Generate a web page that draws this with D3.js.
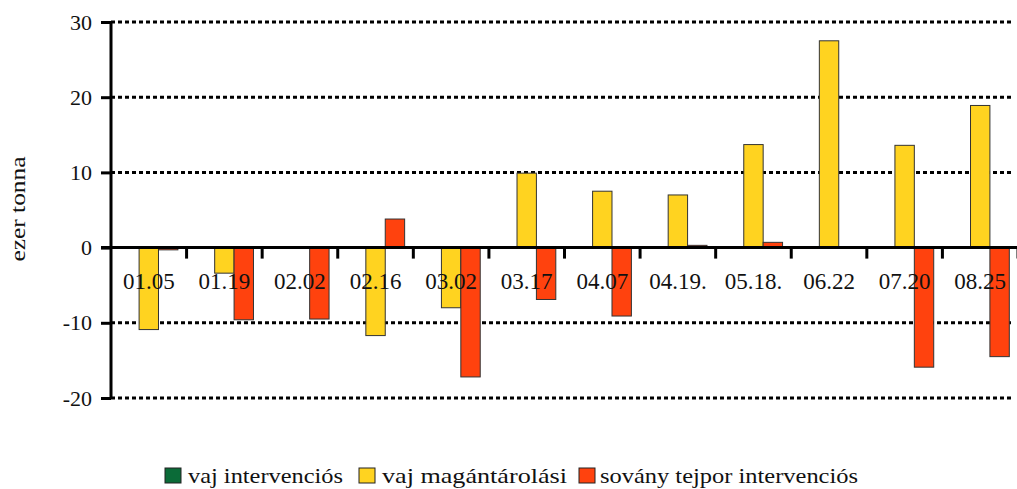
<!DOCTYPE html>
<html>
<head>
<meta charset="utf-8">
<script src="https://cdn.jsdelivr.net/npm/d3@7"></script>
<style>
  body { margin: 0; background: #fff; }
  svg text { font-family: "Times New Roman", "Liberation Serif", Times, serif; fill: #111; }
</style>
</head>
<body>
<svg id="chart"></svg>
<script>
var width = 1017,
    height = 489;

var categories = ["01.05", "01.19", "02.02", "02.16", "03.02", "03.17", "04.07", "04.19.", "05.18.", "06.22", "07.20", "08.25"];
var seriesNames = ["vaj intervenciós", "vaj magántárolási", "sovány tejpor intervenciós"];
var seriesColors = ["#0b6b38", "#ffd320", "#ff420e"];
var vajIntervencios = [0, 0, 0, 0, 0, 0, 0, 0, 0, 0, 0, 0];
var vajMagantarolasi = [-10.9, -3.4, 0, -11.7, -8.0, 9.9, 7.5, 7.0, 13.7, 27.5, 13.6, 18.9];
var sovanyTejpor = [-0.3, -9.6, -9.5, 3.8, -17.2, -6.9, -9.1, 0.3, 0.7, 0, -15.9, -14.5];
var yTicks = [-20, -10, 0, 10, 20, 30];

var seriesValues = [vajIntervencios, vajMagantarolasi, sovanyTejpor];
var rows = categories.map(function(c, i) {
  return { cat: c, vals: seriesValues.map(function(s, j) { return { key: j, value: s[i] }; }) };
});

var margin = { left: 111, right: -1, top: 22, bottom: 91 };

var svg = d3.select("#chart").attr("width", width).attr("height", height);

var x0 = d3.scaleBand()
  .domain(categories)
  .range([margin.left, width - margin.right])
  .padding(0);

var bw = x0.bandwidth();
var x1 = d3.scaleBand()
  .domain([0, 1, 2])
  .range([bw * 0.115, bw * 0.885])
  .padding(0);

var y = d3.scaleLinear()
  .domain([-20, 30])
  .range([height - margin.bottom, margin.top]);

// dotted grid
svg.append("g")
  .selectAll("line")
  .data(yTicks.filter(function(d) { return d !== 0; }))
  .enter().append("line")
  .attr("x1", margin.left)
  .attr("x2", 1013)
  .attr("y1", function(d) { return y(d); })
  .attr("y2", function(d) { return y(d); })
  .attr("stroke", "#000")
  .attr("stroke-width", 3)
  .attr("stroke-dasharray", "4,3");

// bars
var groups = svg.append("g")
  .selectAll("g")
  .data(rows)
  .enter().append("g")
  .attr("transform", function(d) { return "translate(" + x0(d.cat) + ",0)"; });

groups.selectAll("rect")
  .data(function(d) { return d.vals.filter(function(v) { return v.value !== 0; }); })
  .enter().append("rect")
  .attr("x", function(d) { return x1(d.key); })
  .attr("width", x1.bandwidth())
  .attr("y", function(d) { return y(Math.max(0, d.value)); })
  .attr("height", function(d) { return Math.abs(y(d.value) - y(0)); })
  .attr("fill", function(d) { return seriesColors[d.key]; })
  .attr("stroke", "#333")
  .attr("stroke-width", 1);

// zero axis
svg.append("line")
  .attr("x1", margin.left - 10)
  .attr("x2", width)
  .attr("y1", y(0))
  .attr("y2", y(0))
  .attr("stroke", "#000")
  .attr("stroke-width", 3);

// category ticks
svg.append("g")
  .selectAll("line")
  .data(categories)
  .enter().append("line")
  .attr("x1", function(d) { return x0(d) + bw; })
  .attr("x2", function(d) { return x0(d) + bw; })
  .attr("y1", y(0))
  .attr("y2", y(0) + 11)
  .attr("stroke", "#000")
  .attr("stroke-width", 3);

// category labels
svg.append("g")
  .selectAll("text")
  .data(categories)
  .enter().append("text")
  .attr("x", function(d) { return x0(d) + bw / 2; })
  .attr("y", y(0) + 41)
  .attr("text-anchor", "middle")
  .attr("font-size", 23)
  .text(function(d) { return d; });

// y axis
var yAxis = svg.append("g")
  .attr("transform", "translate(" + margin.left + ",0)")
  .call(d3.axisLeft(y).tickValues(yTicks).tickSize(10).tickPadding(9).tickFormat(function(d) { return String(d); }));
yAxis.attr("font-family", null);
yAxis.select(".domain").attr("stroke", "#000").attr("stroke-width", 3)
  .attr("d", "M0," + y(30) + "V" + y(-20));
yAxis.selectAll(".tick line").attr("stroke", "#000").attr("stroke-width", 3);
yAxis.selectAll(".tick text")
  .attr("font-size", 22)
  .attr("fill", "#111");

// y label
svg.append("text")
  .attr("transform", "translate(25,209) rotate(-90)")
  .attr("text-anchor", "middle")
  .attr("font-size", 21)
  .attr("textLength", 105)
  .attr("lengthAdjust", "spacingAndGlyphs")
  .text("ezer tonna");

// legend
var legendX = [165, 359, 579];
var legendW = [155, 185, 258];
var legend = svg.append("g")
  .selectAll("g")
  .data(seriesNames)
  .enter().append("g")
  .attr("transform", function(d, i) { return "translate(" + legendX[i] + ",468)"; });
legend.append("rect")
  .attr("width", 16)
  .attr("height", 15)
  .attr("fill", function(d, i) { return seriesColors[i]; })
  .attr("stroke", "#222")
  .attr("stroke-width", 1);
legend.append("text")
  .attr("x", function(d, i) { return i === 2 ? 21 : 23; })
  .attr("y", 15)
  .attr("font-size", 21)
  .attr("textLength", function(d, i) { return legendW[i]; })
  .attr("lengthAdjust", "spacingAndGlyphs")
  .text(function(d) { return d; });
</script>
</body>
</html>
